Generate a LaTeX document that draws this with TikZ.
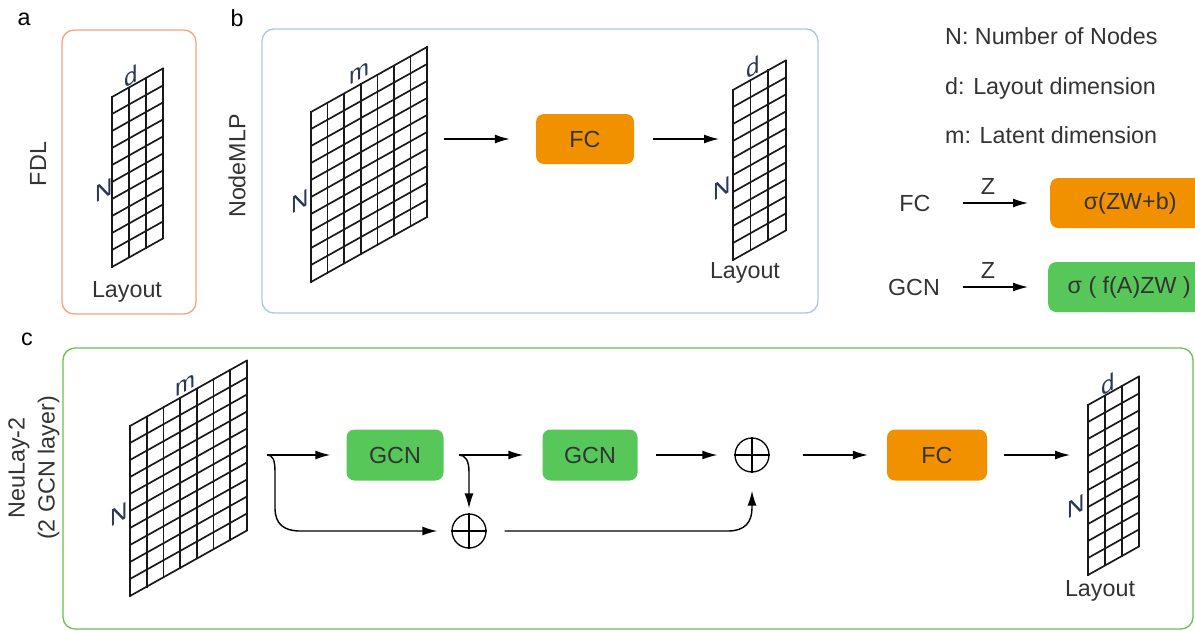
\documentclass[tikz,border=0pt]{standalone}
\usepackage{fontspec}
\setmainfont{Liberation Sans}
\usetikzlibrary{arrows.meta}

\definecolor{fcorange}{HTML}{F29100}
\definecolor{gcngreen}{HTML}{57C75A}
\definecolor{frameA}{HTML}{F4A37A}
\definecolor{frameB}{HTML}{A9C7E2}
\definecolor{frameC}{HTML}{6CC24A}
\definecolor{txt}{HTML}{333333}
\definecolor{dimtxt}{HTML}{2A3856}

\newcommand{\fsz}{\fontsize{23.3}{27}\selectfont}

% skewed N x k matrix: x0, y0 (top-left corner), columns, column width
\newcommand{\skewgrid}[4]{%
  \foreach \i in {0,...,#3}
    \draw[gridline] ({#1+\i*#4},{#2-0.56*\i*#4}) -- ++(0,170);
  \foreach \j in {0,...,10}
    \draw[gridline] (#1,{#2+\j*17}) -- ++({#3*#4},{-0.56*#3*#4});
}

\tikzset{
  panel/.style={rounded corners=12pt, line width=1.3pt},
  gridline/.style={line width=1.7pt, black!90, line cap=rect},
  block/.style={rounded corners=8pt, minimum width=98pt, minimum height=50pt,
                text=txt, font=\fsz, inner sep=0pt},
  fcblock/.style={block, fill=fcorange},
  gcnblock/.style={block, fill=gcngreen},
  arr/.style={line width=1.4pt, black, -{Latex[length=15pt,width=9pt]}},
  lbl/.style={text=txt, font=\fsz, inner sep=0pt},
  dimlbl/.style={text=dimtxt, font=\fontsize{24}{28}\selectfont, inner sep=0pt, yslant=0.56},
  osum/.style={circle, draw, line width=1.3pt, minimum size=34pt, inner sep=0pt},
}

\begin{document}
\begin{tikzpicture}[x=1pt,y=-1pt]
\useasboundingbox (0,0) rectangle (1195,630);
\clip (0,0) rectangle (1195,630);

% panel frames
\draw[panel, frameA] (62,30) rectangle (196,314);
\draw[panel, frameB] (262,29) rectangle (818,313);
\draw[panel, frameC] (63,348) rectangle (1193,629);

% panel letters
\node[lbl, text=black] (pa) at (24,19) {a};
\node[lbl, text=black] (pb) at (237,18) {b};
\node[lbl, text=black] (pc) at (27,339) {c};

% side titles
\node[lbl, rotate=90] (ta) at (38,164) {FDL};
\node[lbl, rotate=90] (tb) at (237,166) {NodeMLP};
\node[lbl, rotate=90, align=center, font=\fontsize{23.3}{30}\selectfont] (tc) at (34,468)
  {NeuLay-2\\(2 GCN layer)};

% ---------- panel a ----------
\skewgrid{112}{97}{3}{17}
\node[dimlbl] (da) at (131,76) {d};
\node[dimlbl] (na) at (104,190) {N};
\node[lbl] (laya) at (127,292) {Layout};

% ---------- panel b ----------
\skewgrid{311}{112}{7}{16.6}
\node[dimlbl] (mb) at (359,73) {m};
\node[dimlbl] (nb) at (300,201) {N};

\coordinate (bin) at (444,139);
\node[fcblock] (bfc) at (585,139) {FC};
\coordinate (bout) at (719,139);
\draw[arr] (bin) -- ([xshift=-26pt]bfc.west);
\draw[arr] ([xshift=19pt]bfc.east) -- (bout);

\skewgrid{733}{90}{3}{17.6}
\node[dimlbl] (db) at (753,67) {d};
\node[dimlbl] (nb2) at (722,188) {N};
\node[lbl] (layb) at (745,273) {Layout};

% ---------- legend ----------
\node[lbl, anchor=base west] (k1) at (945,44) {N: Number of Nodes};
\node[lbl, anchor=base west] (k2) at (945,94) {d: Layout dimension};
\node[lbl, anchor=base west] (k3) at (945,143) {m: Latent dimension};

\node[lbl] (kfc) at (915,203) {FC};
\coordinate (kfcin) at (963,203);
\node[fcblock, minimum width=160pt, anchor=west] (kfcbox) at (1050,203) {σ(ZW+b)};
\draw[arr] (kfcin) -- ([xshift=-22pt]kfcbox.west);
\node[lbl] (kz1) at (988,186) {Z};

\node[lbl] (kgcn) at (914,287) {GCN};
\coordinate (kgcnin) at (963,287);
\node[gcnblock, minimum width=162pt, anchor=west] (kgcnbox) at (1048,287) {σ ( f(A)ZW )};
\draw[arr] (kgcnin) -- ([xshift=-20pt]kgcnbox.west);
\node[lbl] (kz2) at (988,270) {Z};

% ---------- panel c ----------
\skewgrid{130}{426}{7}{16.7}
\node[dimlbl] (mc) at (185,385) {m};
\node[dimlbl] (nc) at (119,514) {N};

\coordinate (s1) at (267,455);
\coordinate (s2) at (459,455);
\node[gcnblock, minimum width=97pt, minimum height=51pt] (g1) at (395,455) {GCN};
\node[gcnblock, minimum width=95pt, minimum height=51pt] (g2) at (590,455) {GCN};
\node[osum] (o1) at (469,531) {};
\node[osum] (o2) at (752,455) {};
\draw[line width=1.3pt] (o1.north) -- (o1.south) (o1.west) -- (o1.east);
\draw[line width=1.3pt] (o2.north) -- (o2.south) (o2.west) -- (o2.east);
\node[fcblock, minimum width=100pt, minimum height=51pt] (cfc) at (937,455) {FC};
\coordinate (cout) at (1070,455);

\draw[arr] (s1) -- ([xshift=-16pt]g1.west);
\draw[arr] (s2) -- ([xshift=-19pt]g2.west);
\draw[arr] ([xshift=18pt]g2.east) -- ([xshift=-17pt]o2.west);
\draw[arr] ([xshift=33pt]o2.east) -- ([xshift=-19pt]cfc.west);
\draw[arr] ([xshift=17pt]cfc.east) -- (cout);

% residual paths
\draw[arr] (s1) .. controls (273,455) and (275,460) .. (275,472) -- (275,508)
  .. controls (275,524) and (284,531) .. (300,531) -- ([xshift=-14pt]o1.west);
\draw[arr] (s2) .. controls (465,455) and (469,460) .. (469,472) -- ([yshift=5pt]o1.north);
\draw[arr] ([xshift=18pt]o1.east) -- (728,531) .. controls (745,531) and (752,522) .. (752,508)
  -- ([yshift=-18pt]o2.south);

\skewgrid{1088}{405}{3}{17}
\node[dimlbl] (dc) at (1108,384) {d};
\node[dimlbl] (nc2) at (1076,506) {N};
\node[lbl] (layc) at (1100,591) {Layout};
\end{tikzpicture}
\end{document}
